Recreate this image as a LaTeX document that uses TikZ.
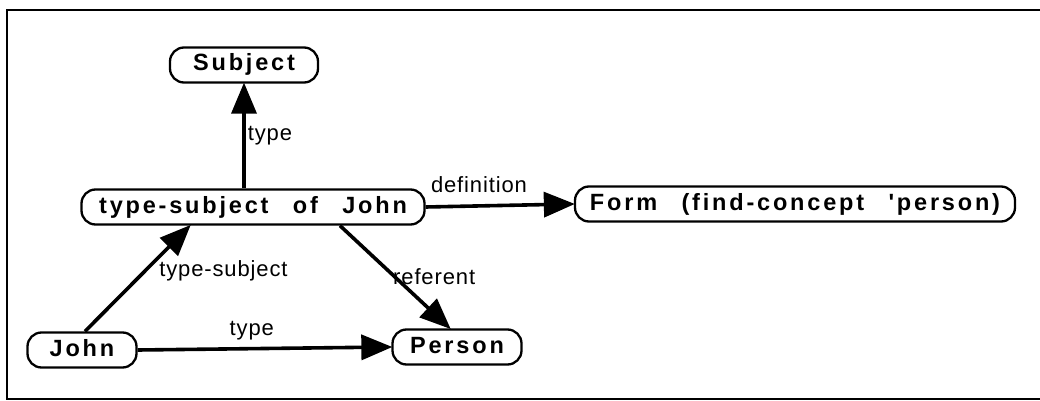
\documentclass[tikz,border=0pt]{standalone}
\usepackage{fontspec}
\setmainfont{Liberation Sans}[LetterSpace=4]
\newfontfamily\conceptfont[LetterSpace=12]{Liberation Sans}
\usetikzlibrary{arrows.meta}
\newcommand{\gap}{\hspace{15pt}}
\begin{document}
\begin{tikzpicture}[x=1pt,y=-1pt,
  concept/.style={draw, line width=2.3pt, rounded corners=14pt, inner xsep=0pt,
    inner ysep=0pt, minimum height=35pt, text height=16.5pt, text depth=4.5pt,
    font=\conceptfont\bfseries\fontsize{23.5}{27}\selectfont},
  rel/.style={line width=3.6pt, -{Triangle[length=31pt,width=25pt]}, shorten >=-1pt},
  lab/.style={font=\fontsize{22}{25}\selectfont, inner sep=0pt}
  ]
  \useasboundingbox (0,0) rectangle (1040,401);
  % frame (open on the right)
  \draw[line width=2pt] (1045,10) -- (7,10) -- (7,399) -- (1045,399);

  % concepts
  \node[concept, minimum width=148pt] (subject) at (244,65) {Subject};
  \node[concept, minimum width=343pt] (tsj) at (253,207) {type-subject\gap{} of\gap{} John};
  \node[concept, minimum width=440pt] (form) at (795,204) {Form\gap{} (find-concept\gap{} 'person)};
  \node[concept, minimum width=109pt] (john) at (82,350) {John};
  \node[concept, minimum width=129pt] (person) at (457,347) {Person};

  % relations
  \draw[rel] (subject.south |- tsj.north) -- (subject.south)
    node[lab, pos=0.5, anchor=west, xshift=2pt] (l1) {type};
  \draw[rel] (tsj.east) -- (form.west)
    node[lab, pos=0.36, above=11pt] (l2) {definition};
  \draw[rel] ([xshift=3pt]john.north) -- ([xshift=-63pt]tsj.south)
    node[lab, pos=0.5, anchor=west, xshift=20pt, yshift=8pt] (l3) {type-subject};
  \draw[rel] ([xshift=87pt]tsj.south) -- ([xshift=-7pt]person.north);
  \node[lab, anchor=west] (l4) at (393,277) {referent};
  \draw[rel] (john.east) -- (person.west)
    node[lab, pos=0.45, above=7pt] (l5) {type};
\end{tikzpicture}
\end{document}
